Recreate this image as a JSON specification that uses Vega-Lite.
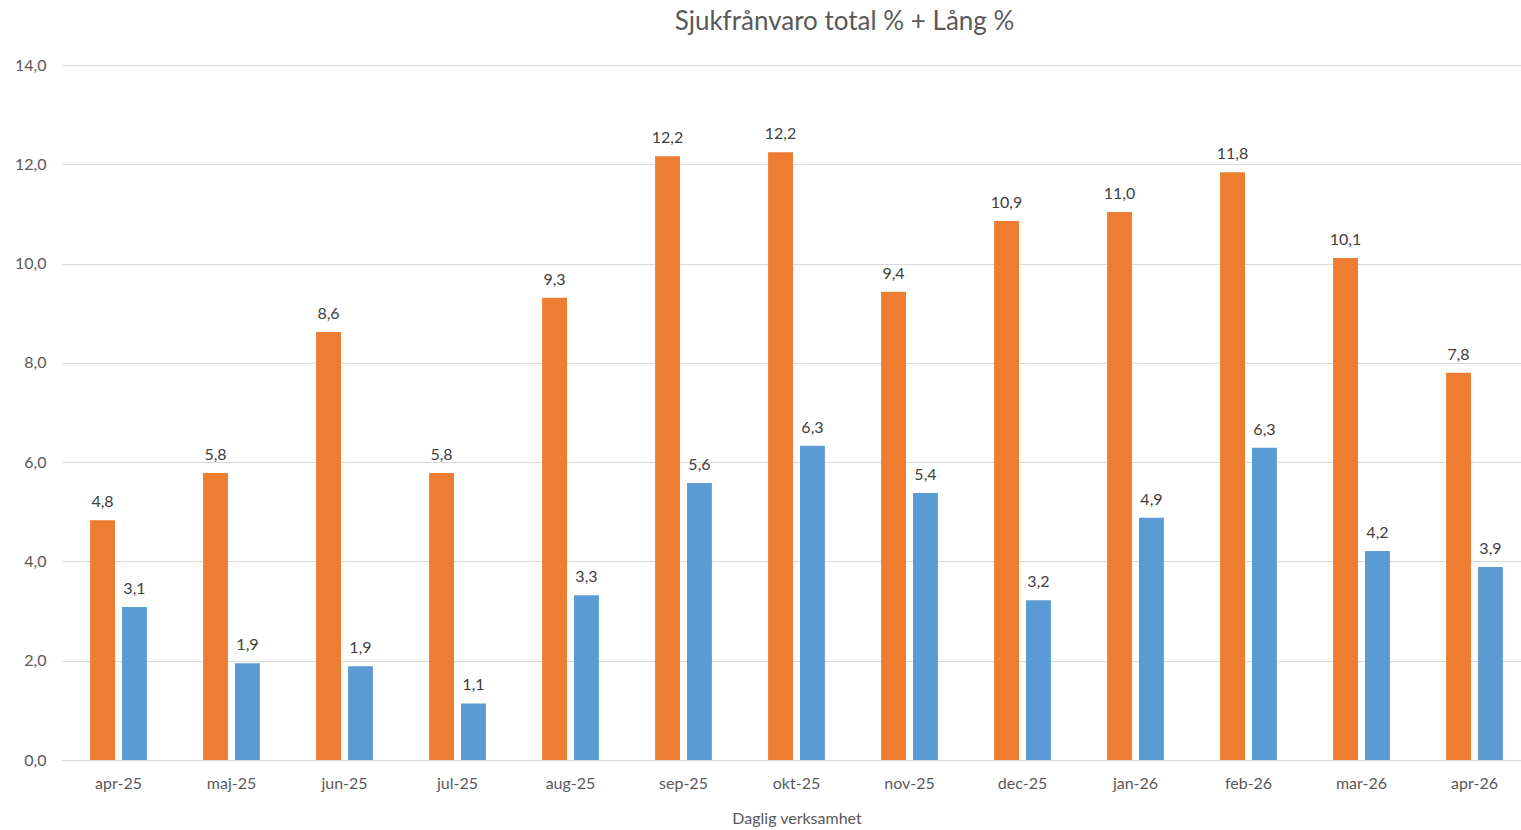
{
  "$schema": "https://vega.github.io/schema/vega-lite/v6.json",
  "autosize": {"type": "none"},
  "width": 1469,
  "height": 695,
  "padding": {"left": 62, "top": 65, "right": 0, "bottom": 70},
  "background": "white",
  "title": {
    "text": "Sjukfrånvaro total % + Lång %",
    "font": "Lato",
    "fontSize": 26,
    "fontWeight": "normal",
    "color": "#595959",
    "anchor": "middle",
    "dx": 48,
    "offset": 22
  },
  "config": {
    "view": {"stroke": null},
    "font": "Lato"
  },
  "data": {
    "values": [
      {"month": "apr-25", "series": "Sjukfrånvaro total %", "value": 4.83},
      {"month": "apr-25", "series": "Lång %", "value": 3.08},
      {"month": "maj-25", "series": "Sjukfrånvaro total %", "value": 5.78},
      {"month": "maj-25", "series": "Lång %", "value": 1.95},
      {"month": "jun-25", "series": "Sjukfrånvaro total %", "value": 8.62},
      {"month": "jun-25", "series": "Lång %", "value": 1.89},
      {"month": "jul-25", "series": "Sjukfrånvaro total %", "value": 5.78},
      {"month": "jul-25", "series": "Lång %", "value": 1.14},
      {"month": "aug-25", "series": "Sjukfrånvaro total %", "value": 9.31},
      {"month": "aug-25", "series": "Lång %", "value": 3.32},
      {"month": "sep-25", "series": "Sjukfrånvaro total %", "value": 12.16},
      {"month": "sep-25", "series": "Lång %", "value": 5.58},
      {"month": "okt-25", "series": "Sjukfrånvaro total %", "value": 12.24},
      {"month": "okt-25", "series": "Lång %", "value": 6.33},
      {"month": "nov-25", "series": "Sjukfrånvaro total %", "value": 9.43},
      {"month": "nov-25", "series": "Lång %", "value": 5.38},
      {"month": "dec-25", "series": "Sjukfrånvaro total %", "value": 10.86},
      {"month": "dec-25", "series": "Lång %", "value": 3.22},
      {"month": "jan-26", "series": "Sjukfrånvaro total %", "value": 11.04},
      {"month": "jan-26", "series": "Lång %", "value": 4.88},
      {"month": "feb-26", "series": "Sjukfrånvaro total %", "value": 11.84},
      {"month": "feb-26", "series": "Lång %", "value": 6.29},
      {"month": "mar-26", "series": "Sjukfrånvaro total %", "value": 10.11},
      {"month": "mar-26", "series": "Lång %", "value": 4.21},
      {"month": "apr-26", "series": "Sjukfrånvaro total %", "value": 7.8},
      {"month": "apr-26", "series": "Lång %", "value": 3.89}
    ]
  },
  "encoding": {
    "x": {
      "field": "month",
      "type": "nominal",
      "sort": null,
      "scale": {"paddingInner": 0, "paddingOuter": 0},
      "axis": {
        "title": "Daglig verksamhet",
        "titleFont": "Lato",
        "titleFontSize": 16,
        "titleFontWeight": "normal",
        "titleColor": "#595959",
        "titlePadding": 19,
        "labelAngle": 0,
        "labelFont": "Lato",
        "labelFontSize": 16,
        "labelColor": "#595959",
        "labelPadding": 15,
        "ticks": false,
        "domain": true,
        "domainColor": "#d9d9d9"
      }
    },
    "xOffset": {
      "field": "series",
      "type": "nominal",
      "sort": ["Sjukfrånvaro total %", "Lång %"],
      "scale": {"paddingInner": 0.22, "paddingOuter": 0.88}
    },
    "y": {
      "field": "value",
      "type": "quantitative",
      "scale": {"domain": [0, 14]},
      "axis": {
        "title": null,
        "values": [0, 2, 4, 6, 8, 10, 12, 14],
        "labelExpr": "replace(format(datum.value, '.1f'), '.', ',')",
        "labelFont": "Lato",
        "labelFontSize": 16,
        "labelColor": "#595959",
        "labelPadding": 16,
        "ticks": false,
        "domain": false,
        "grid": true,
        "gridColor": "#d9d9d9",
        "gridWidth": 1
      }
    },
    "color": {
      "field": "series",
      "type": "nominal",
      "sort": ["Sjukfrånvaro total %", "Lång %"],
      "scale": {"domain": ["Sjukfrånvaro total %", "Lång %"], "range": ["#ED7D31", "#5B9BD5"]},
      "legend": null
    }
  },
  "layer": [
    {"mark": {"type": "bar"}},
    {
      "mark": {
        "type": "text",
        "baseline": "bottom",
        "dy": -10,
        "fontSize": 16,
        "font": "Lato",
        "text": {"expr": "replace(format(datum.value, '.1f'), '.', ',')"}
      },
      "encoding": {
        "color": {"value": "#404040"}
      }
    }
  ]
}
